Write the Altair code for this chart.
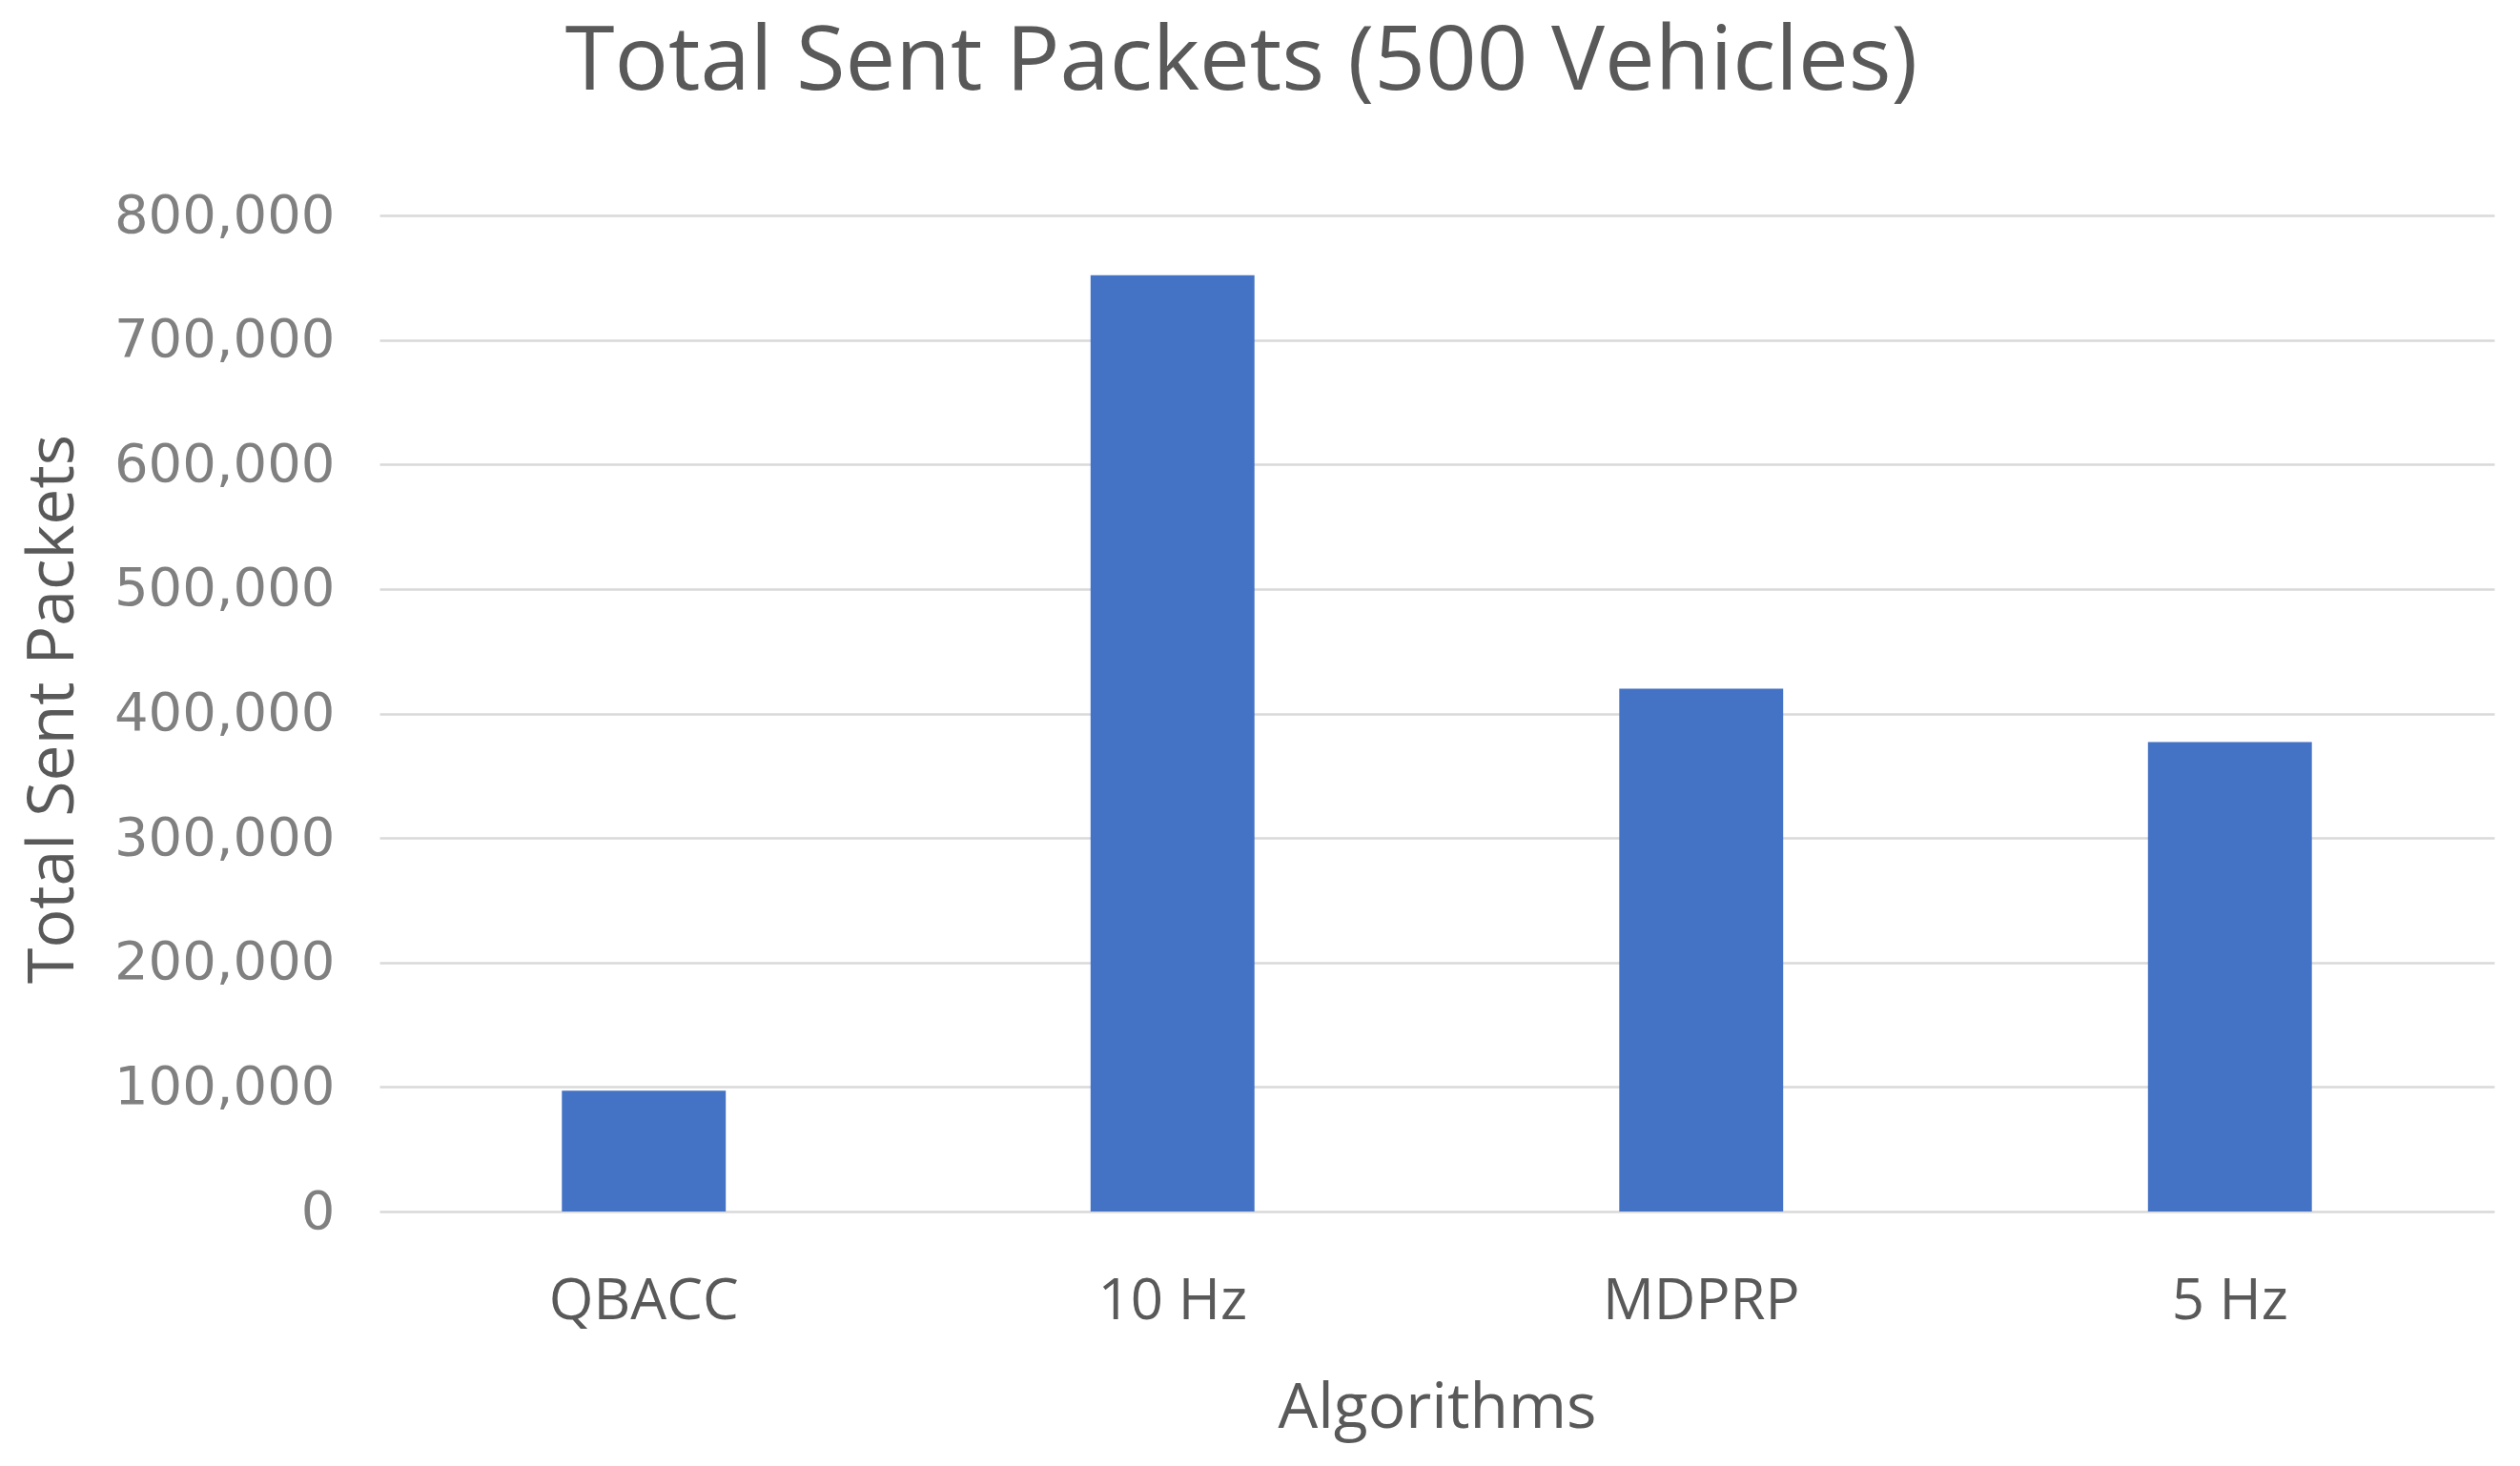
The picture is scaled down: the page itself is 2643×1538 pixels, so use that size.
import altair as alt
import pandas as pd

categories = ["QBACC", "10 Hz", "MDPRP", "5 Hz"]
values = [97000, 752000, 420000, 377000]
y_ticks = [0, 100000, 200000, 300000, 400000, 500000, 600000, 700000, 800000]

df = pd.DataFrame({"Algorithm": categories, "Packets": values})

W, H = 2218, 1045

chart = alt.Chart(df).mark_bar(color="#4472C4").encode(
    x=alt.X("Algorithm:N", sort=categories,
            scale=alt.Scale(paddingInner=0.69, paddingOuter=0.345),
            axis=alt.Axis(title="Algorithms", labelAngle=0, domain=False, ticks=False,
                          labelFont="Open Sans", labelFontSize=60, labelColor="#595959",
                          labelPadding=94, labelBaseline="middle", labelLimit=0,
                          titleFont="Open Sans", titleFontSize=66, titleFontWeight="normal",
                          titleColor="#595959", titleY=226, titleBaseline="alphabetic")),
    y=alt.Y("Packets:Q", scale=alt.Scale(domain=[0, 800000], nice=False),
            axis=alt.Axis(title="Total Sent Packets", values=y_ticks, format=",d",
                          domain=False, ticks=False, grid=True, gridColor="#d9d9d9",
                          gridWidth=2.5,
                          labelFont="DejaVu Sans", labelFontSize=56, labelColor="#808080",
                          labelPadding=47, labelLimit=0,
                          titleFont="Open Sans", titleFontSize=68, titleFontWeight="normal",
                          titleColor="#595959", titleX=-342, titleY=H / 2 - 5,
                          titleBaseline="middle", titleAngle=270)),
).properties(
    width=W, height=H,
    title=alt.TitleParams("Total Sent Packets (500 Vehicles)", font="Open Sans",
                          fontSize=94, fontWeight="normal", color="#595959",
                          anchor="middle", frame="group", dx=-205, offset=10,
                          baseline="alphabetic"),
    autosize=alt.AutoSizeParams(type="none"),
    padding={"left": 390, "top": 218, "right": 17, "bottom": 259},
).configure_view(stroke=None)

chart.save("out.html", embed_options={"renderer": "svg", "actions": False})
